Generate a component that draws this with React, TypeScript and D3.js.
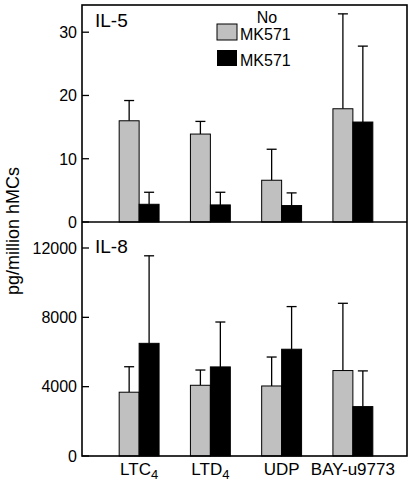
import React from "react";
import * as d3 from "d3";

const categories = ["LTC4", "LTD4", "UDP", "BAY-u9773"];
const il5NoMK = [16.0, 13.9, 6.6, 17.9];
const il5NoMKErr = [19.2, 15.9, 11.5, 32.9];
const il5MK = [2.8, 2.7, 2.6, 15.8];
const il5MKErr = [4.7, 4.7, 4.6, 27.8];
const il8NoMK = [3680, 4080, 4040, 4930];
const il8NoMKErr = [5150, 4960, 5710, 8810];
const il8MK = [6500, 5140, 6160, 2850];
const il8MKErr = [11550, 7730, 8620, 4910];
const il5Ticks = [0, 10, 20, 30];
const il8Ticks = [0, 4000, 8000, 12000];

const W = 410;
const H = 482;
const FL = 82;
const FR = 407;
const FT = 5;
const FM = 222;
const FB = 456;
const GRAY = "#c0c0c0";
const FONT = "Liberation Sans, Arial, Helvetica, sans-serif";

const x = d3.scaleBand<string>().domain(categories).range([103.5, 388.5]).paddingInner(0.44).paddingOuter(0.22);
const sub = d3.scaleBand<string>().domain(["no", "mk"]).range([0, x.bandwidth()]);
const y5 = d3.scaleLinear().domain([0, 34.3]).range([FM, FT]);
const y8 = d3.scaleLinear().domain([0, 13500]).range([FB, FM]);

function Panel({ y, no, noErr, mk, mkErr, ticks, label, labelY }: any) {
  const bw = sub.bandwidth();
  const series = [
    { key: "no", vals: no, errs: noErr, fill: GRAY },
    { key: "mk", vals: mk, errs: mkErr, fill: "#000" },
  ];
  return (
    <g>
      {series.map((s) =>
        categories.map((c, i) => {
          const x0 = (x(c) as number) + (sub(s.key) as number);
          const cx = x0 + bw / 2;
          return (
            <g key={s.key + c}>
              <line x1={cx} x2={cx} y1={y(s.vals[i])} y2={y(s.errs[i])} stroke="#000" strokeWidth={1.3} />
              <line x1={cx - 5} x2={cx + 5} y1={y(s.errs[i])} y2={y(s.errs[i])} stroke="#000" strokeWidth={1.3} />
              <rect x={x0} y={y(s.vals[i])} width={bw} height={y(0) - y(s.vals[i])} fill={s.fill} stroke="#000" strokeWidth={1} />
            </g>
          );
        })
      )}
      {ticks.map((t: number) => (
        <g key={t}>
          <line x1={FL} x2={FL + 7} y1={y(t)} y2={y(t)} stroke="#000" strokeWidth={1.3} />
          <text x={FL - 5} y={y(t) + 5.8} textAnchor="end" fontSize={16} fontFamily={FONT}>{t}</text>
        </g>
      ))}
      <text x={95} y={labelY} fontSize={19} fontFamily={FONT}>{label}</text>
    </g>
  );
}

export default function App() {
  return (
    <svg width={W} height={H} style={{ position: "absolute", left: 0, top: 0, background: "#fff" }}>
      <rect x={0} y={0} width={W} height={H} fill="#fff" />
      <Panel y={y5} no={il5NoMK} noErr={il5NoMKErr} mk={il5MK} mkErr={il5MKErr} ticks={il5Ticks} label="IL-5" labelY={27} />
      <Panel y={y8} no={il8NoMK} noErr={il8NoMKErr} mk={il8MK} mkErr={il8MKErr} ticks={il8Ticks} label="IL-8" labelY={253} />
      <rect x={FL} y={FT} width={FR - FL} height={FB - FT} fill="none" stroke="#000" strokeWidth={1.6} />
      <line x1={FL} x2={FR} y1={FM} y2={FM} stroke="#000" strokeWidth={1.6} />
      <g>
        <rect x={217} y={24} width={20} height={16} fill={GRAY} stroke="#000" strokeWidth={1} />
        <rect x={217} y={50} width={20} height={16} fill="#000" />
        <text x={267} y={23} textAnchor="middle" fontSize={16} fontFamily={FONT}>No</text>
        <text x={240} y={40} fontSize={16} fontFamily={FONT}>MK571</text>
        <text x={240} y={66} fontSize={16} fontFamily={FONT}>MK571</text>
      </g>
      {categories.map((c) => {
        const cx = (x(c) as number) + x.bandwidth() / 2;
        const m = c.match(/^(LT[CD])(4)$/);
        return (
          <text key={c} x={cx} y={475} textAnchor="middle" fontSize={17} fontFamily={FONT}>
            {m ? (
              <>
                {m[1]}
                <tspan fontSize={13} dy={4}>{m[2]}</tspan>
              </>
            ) : (
              c
            )}
          </text>
        );
      })}
      <text transform="translate(19,231) rotate(-90)" textAnchor="middle" fontSize={18} fontFamily={FONT}>pg/million hMCs</text>
    </svg>
  );
}
